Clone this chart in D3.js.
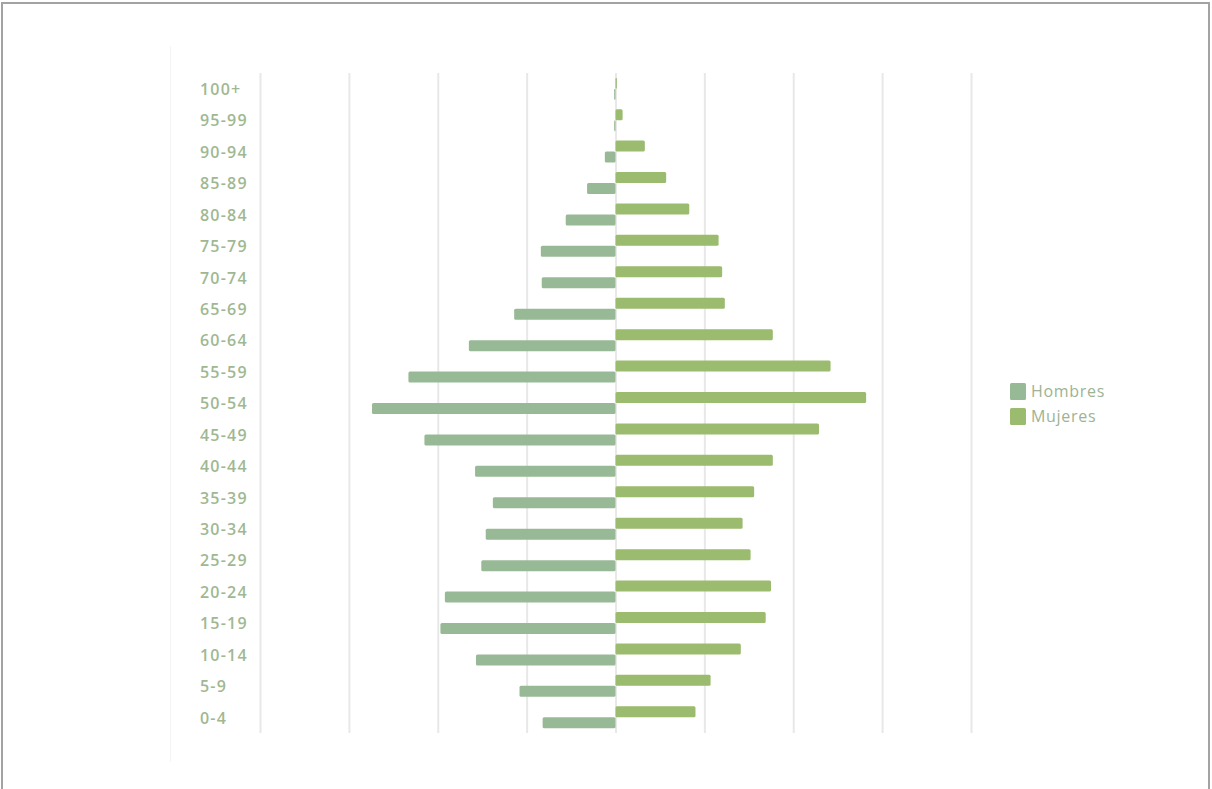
<!DOCTYPE html>
<html>
<head>
<meta charset="utf-8">
<script src="https://cdn.jsdelivr.net/npm/d3@7"></script>
<style>
  html, body { margin: 0; padding: 0; background: #fff; }
  svg { display: block; }
  text { font-family: "Open Sans", "Noto Sans", sans-serif; }
</style>
</head>
<body>
<svg id="chart" width="1212" height="789"></svg>
<script>
// ---- Data (units = one gridline step) ----
const categories = ["0-4","5-9","10-14","15-19","20-24","25-29","30-34","35-39","40-44","45-49",
                    "50-54","55-59","60-64","65-69","70-74","75-79","80-84","85-89","90-94","95-99","100+"];
const hombres = [0.82, 1.08, 1.57, 1.97, 1.92, 1.51, 1.46, 1.38, 1.58, 2.15,
                 2.74, 2.33, 1.65, 1.14, 0.83, 0.84, 0.56, 0.32, 0.12, 0.015, 0.015];
const mujeres = [0.90, 1.07, 1.41, 1.69, 1.75, 1.52, 1.43, 1.56, 1.77, 2.29,
                 2.82, 2.42, 1.77, 1.23, 1.20, 1.16, 0.83, 0.57, 0.33, 0.08, 0.015];
const gridTicks = [-4, -3, -2, -1, 0, 1, 2, 3, 4];
const seriesNames = ["Hombres", "Mujeres"];
const seriesColors = ["#98b996", "#9bbb6e"];

const svg = d3.select("#chart");

// outer frame
svg.append("rect")
  .attr("x", 2).attr("y", 3).attr("width", 1207).attr("height", 800)
  .attr("fill", "none").attr("stroke", "#a3a3a3").attr("stroke-width", 2);

// faint chart-area edge
svg.append("line")
  .attr("x1", 170.5).attr("x2", 170.5).attr("y1", 46).attr("y2", 762)
  .attr("stroke", "#f4f4f4").attr("stroke-width", 1);

const x = d3.scaleLinear().domain([-4, 4]).range([260, 971]);
const y = d3.scaleBand()
  .domain(categories.slice().reverse())
  .range([73, 733])
  .paddingInner(0.3)
  .paddingOuter(0.15);
const sub = d3.scaleBand().domain(["Mujeres", "Hombres"]).range([0, y.bandwidth()]);

// gridlines
const grid = svg.append("g")
  .attr("transform", "translate(0,733)")
  .call(d3.axisBottom(x).tickValues(gridTicks).tickSize(-660).tickFormat(""));
grid.select(".domain").remove();
grid.selectAll(".tick line").attr("stroke", "#e8e8e8").attr("stroke-width", 2);

// bars
const rows = categories.map((c, i) => ({ c, h: hombres[i], m: mujeres[i] }));

svg.append("g").selectAll("rect")
  .data(rows).join("rect")
  .attr("x", d => x(-d.h))
  .attr("y", d => y(d.c) + sub("Hombres"))
  .attr("width", d => x(0) - x(-d.h))
  .attr("height", sub.bandwidth())
  .attr("rx", 1.5)
  .attr("fill", seriesColors[0]);

svg.append("g").selectAll("rect")
  .data(rows).join("rect")
  .attr("x", x(0))
  .attr("y", d => y(d.c) + sub("Mujeres"))
  .attr("width", d => x(d.m) - x(0))
  .attr("height", sub.bandwidth())
  .attr("rx", 1.5)
  .attr("fill", seriesColors[1]);

// category labels
svg.append("g").selectAll("text")
  .data(categories).join("text")
  .attr("x", 200)
  .attr("y", d => y(d) + y.bandwidth() / 2 + 2)
  .attr("dominant-baseline", "middle")
  .attr("font-size", 16)
  .attr("font-weight", 600)
  .attr("letter-spacing", 1.2)
  .attr("fill", "#a0b892")
  .text(d => d);

// legend
const legend = svg.append("g").attr("transform", "translate(1010,383)");
seriesNames.forEach((name, i) => {
  const g = legend.append("g").attr("transform", `translate(0,${i * 25})`);
  g.append("rect").attr("width", 16).attr("height", 17).attr("rx", 1.5)
    .attr("fill", seriesColors[i]);
  g.append("text").attr("x", 21).attr("y", 10).attr("dominant-baseline", "middle")
    .attr("font-size", 16).attr("letter-spacing", 0.7)
    .attr("fill", "#9db394").text(name);
});
</script>
</body>
</html>
